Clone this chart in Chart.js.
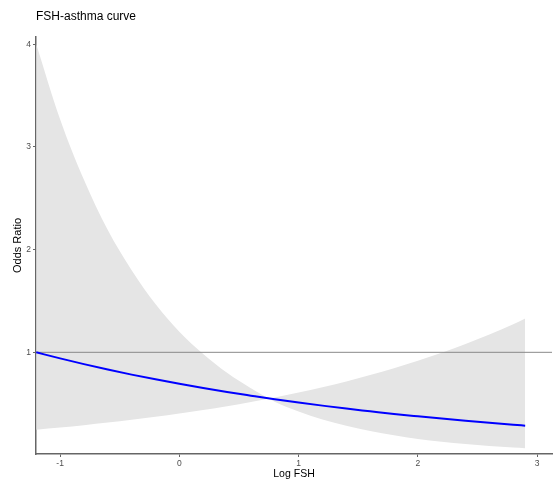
<!DOCTYPE html>
<html>
<head>
<meta charset="utf-8">
<title>FSH-asthma curve</title>
<script src="https://cdn.jsdelivr.net/npm/chart.js"></script>
<style>
    body { margin: 0; background: #ffffff; }
    #chart { display: block; }
</style>
</head>
<body>
<canvas id="chart" width="557" height="486"></canvas>
<script>
// Log FSH values where the curve and its confidence band are sampled
const logFsh = [-1.2, -1.0, -0.8, -0.6, -0.4, -0.2, 0.0, 0.2, 0.4, 0.6, 0.8,
    1.0, 1.2, 1.4, 1.6, 1.8, 2.0, 2.2, 2.4, 2.6, 2.8, 2.9];

// fitted odds ratio
const oddsRatio = [1.0, 0.941, 0.885, 0.833, 0.783, 0.737, 0.694, 0.653, 0.614, 0.578, 0.543,
    0.511, 0.481, 0.452, 0.426, 0.400, 0.377, 0.355, 0.334, 0.314, 0.295, 0.286];

// the two edges of the 95% band (they cross near log FSH 0.73)
const bandA = [4.0, 3.27, 2.68, 2.19, 1.80, 1.47, 1.20, 0.984, 0.801, 0.650, 0.519,
    0.423, 0.346, 0.284, 0.233, 0.192, 0.157, 0.130, 0.108, 0.089, 0.0735, 0.067];
const bandB = [0.247, 0.268, 0.291, 0.316, 0.343, 0.372, 0.405, 0.439, 0.476, 0.517, 0.561,
    0.609, 0.661, 0.717, 0.780, 0.845, 0.918, 0.996, 1.081, 1.174, 1.274, 1.33];

const xTicks = [-1, 0, 1, 2, 3];
const yTicks = [1, 2, 3, 4];
const xLimits = [-1.202, 3.125];
const yLimits = [0.01, 4.07];
const refOdds = 1;

const fontFamily = "'Liberation Sans', Arial, Helvetica, sans-serif";
const axisGrey = '#666666';

function toPoints(ys) {
    return logFsh.map((x, i) => ({ x: x, y: ys[i] }));
}

// plot title sits flush with the left edge of the panel
const titlePlugin = {
    id: 'panelTitle',
    afterDraw(chart) {
        const ctx = chart.ctx;
        ctx.save();
        ctx.fillStyle = '#000000';
        ctx.font = '12px ' + fontFamily;
        ctx.textAlign = 'left';
        ctx.textBaseline = 'alphabetic';
        ctx.fillText('FSH-asthma curve', chart.chartArea.left, 20);
        ctx.restore();
    }
};

new Chart(document.getElementById('chart'), {
    type: 'line',
    data: {
        datasets: [
            {
                label: 'band A',
                data: toPoints(bandA),
                borderWidth: 0,
                borderColor: 'rgba(0,0,0,0)',
                pointRadius: 0,
                cubicInterpolationMode: 'monotone',
                fill: false,
                order: 3
            },
            {
                label: 'band B',
                data: toPoints(bandB),
                borderWidth: 0,
                borderColor: 'rgba(0,0,0,0)',
                backgroundColor: '#e5e5e5',
                pointRadius: 0,
                cubicInterpolationMode: 'monotone',
                fill: '-1',
                order: 2
            },
            {
                label: 'reference',
                data: [{ x: xLimits[0], y: refOdds }, { x: xLimits[1], y: refOdds }],
                borderColor: '#8a8a8a',
                borderWidth: 1,
                pointRadius: 0,
                fill: false,
                order: 1
            },
            {
                label: 'Odds Ratio',
                data: toPoints(oddsRatio),
                borderColor: '#0000ff',
                borderWidth: 2,
                pointRadius: 0,
                cubicInterpolationMode: 'monotone',
                fill: false,
                order: 0
            }
        ]
    },
    options: {
        responsive: false,
        animation: false,
        devicePixelRatio: 1,
        layout: { padding: { top: 37, right: 5, bottom: 0, left: 0 } },
        plugins: {
            legend: { display: false },
            tooltip: { enabled: false }
        },
        scales: {
            x: {
                type: 'linear',
                min: xLimits[0],
                max: xLimits[1],
                afterBuildTicks: axis => { axis.ticks = xTicks.map(v => ({ value: v })); },
                afterFit: axis => { axis.height = 32; },
                border: { display: true, color: axisGrey, width: 1.5 },
                grid: { drawOnChartArea: false, drawTicks: true, tickLength: 3, color: axisGrey },
                ticks: {
                    padding: 2,
                    color: '#4d4d4d',
                    font: { family: fontFamily, size: 8.5 },
                    maxRotation: 0
                },
                title: {
                    display: true,
                    text: 'Log FSH',
                    color: '#000000',
                    font: { family: fontFamily, size: 10.5 },
                    padding: { top: 0, bottom: 6 }
                }
            },
            y: {
                type: 'linear',
                min: yLimits[0],
                max: yLimits[1],
                afterBuildTicks: axis => { axis.ticks = yTicks.map(v => ({ value: v })); },
                afterFit: axis => { axis.width = 36; },
                border: { display: true, color: axisGrey, width: 1.5 },
                grid: { drawOnChartArea: false, drawTicks: true, tickLength: 3, color: axisGrey },
                ticks: {
                    padding: 2,
                    color: '#4d4d4d',
                    font: { family: fontFamily, size: 8.5 }
                },
                title: {
                    display: true,
                    text: 'Odds Ratio',
                    color: '#000000',
                    font: { family: fontFamily, size: 11 },
                    padding: { top: 11, bottom: 0 }
                }
            }
        }
    },
    plugins: [titlePlugin]
});
</script>
</body>
</html>
